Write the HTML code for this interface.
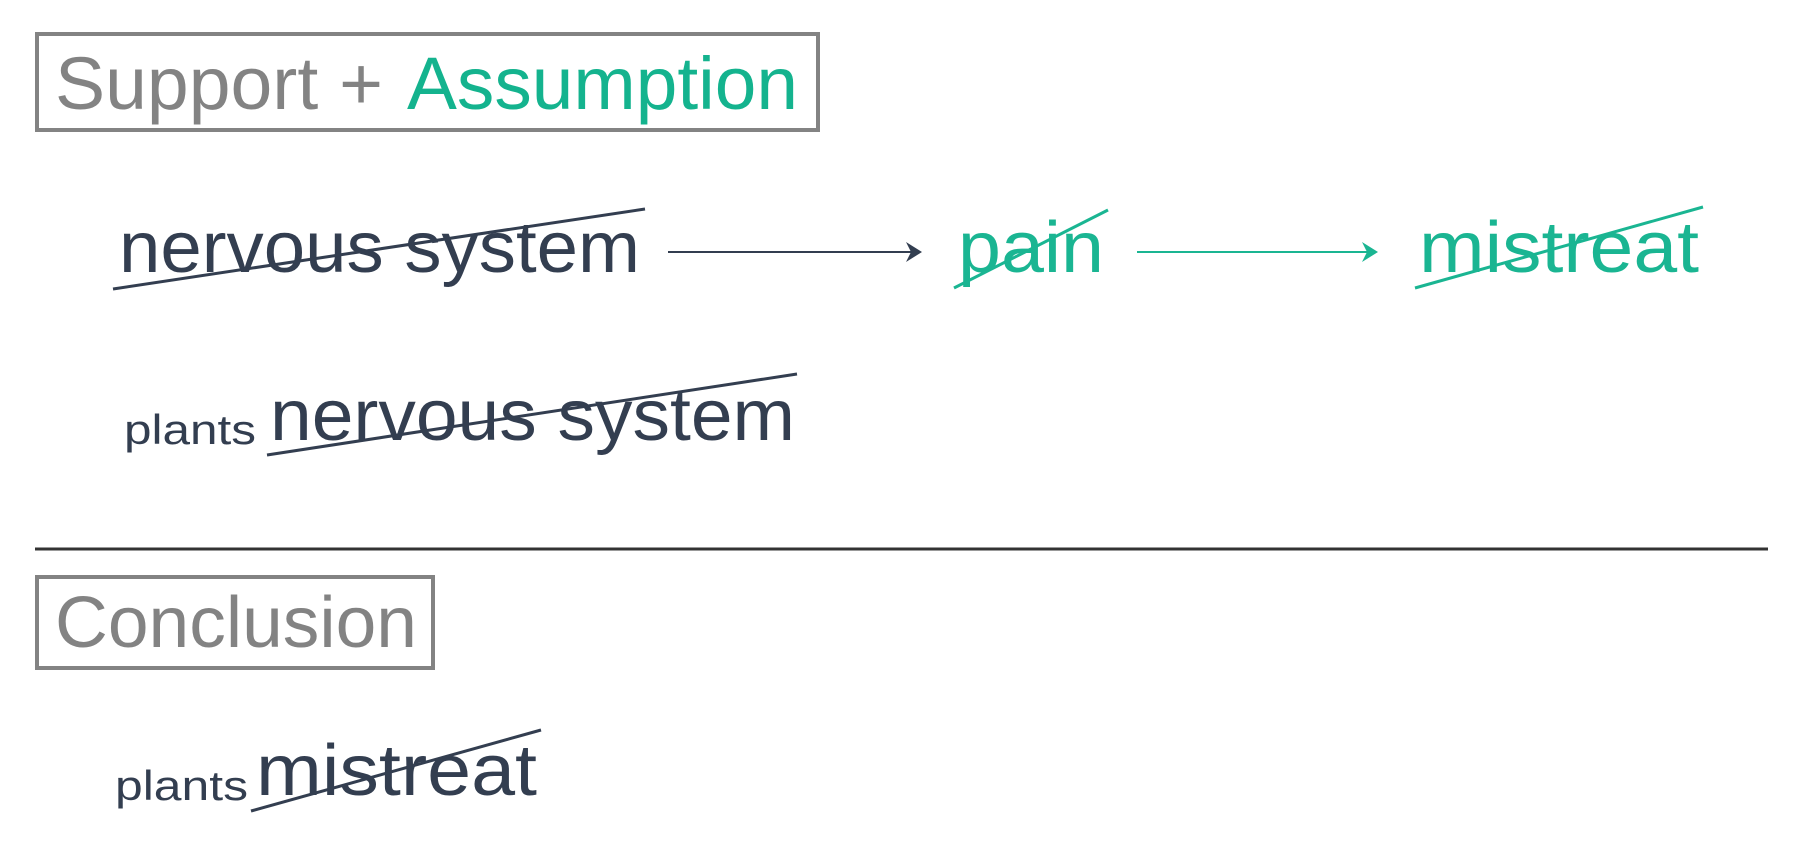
<!DOCTYPE html>
<html><head><meta charset="utf-8"><style>
html,body{margin:0;padding:0;background:#fff;width:1806px;height:865px;overflow:hidden}
svg{display:block}
text{font-family:"Liberation Sans",sans-serif}
</style></head><body>
<svg width="1806" height="865" viewBox="0 0 1806 865" xmlns="http://www.w3.org/2000/svg">
<rect x="37" y="34" width="781" height="96" fill="none" stroke="#838383" stroke-width="4"/>
<text x="55" y="109" font-size="74" fill="#838383" textLength="328" lengthAdjust="spacingAndGlyphs">Support +</text>
<text x="407" y="109" font-size="74" fill="#14b38e" textLength="391" lengthAdjust="spacingAndGlyphs">Assumption</text>

<text x="119" y="272" font-size="72" fill="#333e50" textLength="521" lengthAdjust="spacingAndGlyphs">nervous system</text>
<line x1="113" y1="289" x2="645" y2="209" stroke="#333e50" stroke-width="3"/>

<line x1="668" y1="252" x2="918" y2="252" stroke="#333e50" stroke-width="2"/>
<path d="M906,242 L922,252 L906,262 L911,252 Z" fill="#333e50"/>

<text x="958" y="272" font-size="72" fill="#1ab592" textLength="146" lengthAdjust="spacingAndGlyphs">pain</text>
<line x1="954" y1="288" x2="1108" y2="210" stroke="#1ab592" stroke-width="3"/>

<line x1="1137" y1="252" x2="1374" y2="252" stroke="#1ab592" stroke-width="2"/>
<path d="M1362,242 L1378,252 L1362,262 L1367,252 Z" fill="#1ab592"/>

<text x="1419" y="272" font-size="72" fill="#1ab592" textLength="280" lengthAdjust="spacingAndGlyphs">mistreat</text>
<line x1="1415" y1="288" x2="1703" y2="207" stroke="#1ab592" stroke-width="3"/>

<text x="124" y="444" font-size="42" fill="#333e50" textLength="132" lengthAdjust="spacingAndGlyphs">plants</text>
<text x="270" y="440" font-size="72" fill="#333e50" textLength="525" lengthAdjust="spacingAndGlyphs">nervous system</text>
<line x1="267" y1="455" x2="797" y2="374" stroke="#333e50" stroke-width="3"/>

<line x1="35" y1="549" x2="1768" y2="549" stroke="#333" stroke-width="3"/>

<rect x="37" y="577" width="396" height="91" fill="none" stroke="#838383" stroke-width="4"/>
<text x="55" y="647" font-size="72" fill="#838383" textLength="362" lengthAdjust="spacingAndGlyphs">Conclusion</text>

<text x="115" y="800" font-size="42" fill="#333e50" textLength="133" lengthAdjust="spacingAndGlyphs">plants</text>
<text x="256" y="795" font-size="72" fill="#333e50" textLength="281" lengthAdjust="spacingAndGlyphs">mistreat</text>
<line x1="251" y1="811" x2="541" y2="730" stroke="#333e50" stroke-width="3"/>
</svg>
</body></html>
